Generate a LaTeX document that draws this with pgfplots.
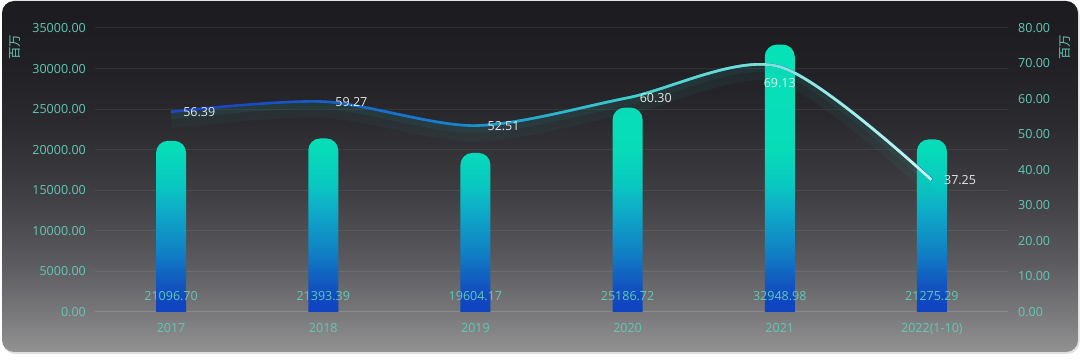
\documentclass[border=0pt]{standalone}
\usepackage{pgfplots}
\pgfplotsset{compat=1.18}
\usepackage{fontspec}
\setmainfont{Open Sans}
\newfontfamily\cjk{Noto Sans CJK SC}
\usetikzlibrary{fadings}

\definecolor{tickteal}{HTML}{62C8B4}
\definecolor{axisgray}{HTML}{8A8A8E}
\definecolor{labelc}{HTML}{E6E6E6}
\definecolor{glowc}{HTML}{22B0AC}
\definecolor{lineA}{HTML}{1A48C6}
\definecolor{lineB}{HTML}{1490CC}
\definecolor{lineC}{HTML}{40CFC2}
\definecolor{lineD}{HTML}{CDF4EC}

\definecolor{bgA}{HTML}{929292}
\definecolor{bgB}{HTML}{78787B}
\definecolor{bgC}{HTML}{5A5A5E}
\definecolor{bgD}{HTML}{3E3E42}
\definecolor{bgE}{HTML}{2A2A2E}
\definecolor{bgF}{HTML}{202024}
\definecolor{bgG}{HTML}{1C1C20}

\definecolor{barA}{HTML}{1044C0}
\definecolor{barB}{HTML}{1256C0}
\definecolor{barC}{HTML}{1080C4}
\definecolor{barD}{HTML}{0EA8C8}
\definecolor{barE}{HTML}{08C8C0}
\definecolor{barF}{HTML}{07DCB9}
\definecolor{barG}{HTML}{06E2B8}

\pgfdeclareverticalshading{bgshade}{100bp}{color(0bp)=(bgA); color(25bp)=(bgA); color(30.7bp)=(bgB); color(38.1bp)=(bgC); color(48bp)=(bgD); color(58bp)=(bgE); color(66.6bp)=(bgF); color(75bp)=(bgG); color(100bp)=(bgG)}
\pgfdeclareverticalshading{barshade}{100bp}{color(0bp)=(barA); color(28.5bp)=(barA); color(32.2bp)=(barB); color(37.8bp)=(barC); color(44.8bp)=(barD); color(49.9bp)=(barE); color(56.4bp)=(barF); color(75bp)=(barG); color(100bp)=(barG)}

% fading positions: path fraction f maps to 37.5bp + 25bp*f
\pgfdeclarehorizontalshading{fsA}{100bp}{color(0bp)=(black); color(40bp)=(black); color(48bp)=(white); color(100bp)=(white)}
\pgfdeclarehorizontalshading{fsB}{100bp}{color(0bp)=(black); color(47bp)=(black); color(52.5bp)=(white); color(100bp)=(white)}
\pgfdeclarehorizontalshading{fsC}{100bp}{color(0bp)=(black); color(52.5bp)=(black); color(62bp)=(white); color(100bp)=(white)}
\begin{tikzfadingfrompicture}[name=fadeA]
\shade[shading=fsA] (-50bp,-50bp) rectangle (50bp,50bp);
\end{tikzfadingfrompicture}
\begin{tikzfadingfrompicture}[name=fadeB]
\shade[shading=fsB] (-50bp,-50bp) rectangle (50bp,50bp);
\end{tikzfadingfrompicture}
\begin{tikzfadingfrompicture}[name=fadeC]
\shade[shading=fsC] (-50bp,-50bp) rectangle (50bp,50bp);
\end{tikzfadingfrompicture}

\pgfplotstableread{
x y
0 56.39
1 59.27
2 52.51
3 60.30
4 69.13
5 37.25
}\linedata

\pgfplotstableread{
x y
0 21096.70
1 21393.39
2 19604.17
3 25186.72
4 32948.98
5 21275.29
}\bardata

\newcommand{\lblfont}{\fontsize{12.5bp}{15bp}\selectfont}

\begin{document}
\begin{tikzpicture}
\useasboundingbox (0,0) rectangle (1080bp,362bp);
\fill[white] (0,0) rectangle (1080bp,362bp);
\fill[black!12, rounded corners=12bp] (3bp,8bp) rectangle (1079.5bp,359bp);
\shade[shading=bgshade, rounded corners=12bp] (2bp,10bp) rectangle (1078bp,361bp);
\node[rotate=90, text=tickteal, inner sep=0pt, font=\cjk\lblfont] at (15.5bp,314.5bp) {百万};
\node[rotate=90, text=tickteal, inner sep=0pt, font=\cjk\lblfont] at (1065bp,314.5bp) {百万};

% left axis: grid and ticks
\begin{axis}[
  at={(95bp,50bp)}, anchor=south west, scale only axis,
  width=913bp, height=284bp,
  xmin=-0.5, xmax=5.5, ymin=0, ymax=35000,
  axis line style={draw=none},
  xtick={0,1,2,3,4,5},
  xticklabels={2017,2018,2019,2020,2021,2022(1-10)},
  ytick={0,5000,10000,15000,20000,25000,30000,35000},
  scaled y ticks=false,
  major tick length=0pt,
  ymajorgrids, grid style={color=white, opacity=0.07, line width=1bp},
  extra y ticks={0}, extra y tick labels={},
  extra y tick style={grid style={color=axisgray, opacity=1, line width=1bp}},
  yticklabel={\pgfmathprintnumber[fixed, fixed zerofill, precision=2, 1000 sep={}, assume math mode=true]{\tick}},
  tick label style={color=tickteal, font=\lblfont},
  yticklabel style={anchor=east, inner sep=0pt, xshift=-9bp},
  xticklabel style={anchor=base, inner sep=0pt, yshift=-20.5bp},
]
\end{axis}

% bars: the axis reaches 1500 units below the visible base, which is clipped off
\begin{scope}
\clip (95bp,50bp) rectangle (1008bp,362bp);
\begin{axis}[
  at={(95bp,37.83bp)}, anchor=south west, scale only axis,
  width=913bp, height=296.17bp,
  xmin=-0.5, xmax=5.5, ymin=0, ymax=36500,
  hide axis, clip=false,
  y filter/.expression={y+1500},
]
\addplot[ybar, bar width=30bp, bar shift=0pt, draw=none, fill=none, shade, shading=barshade, rounded corners=12bp]
  table[x=x,y=y] {\bardata};
\addplot[draw=none, mark=none, nodes near coords, point meta=explicit symbolic,
  nodes near coords style={anchor=center, text=tickteal, font=\lblfont, inner sep=0pt}]
  coordinates {(0,1972)[21096.70] (1,1972)[21393.39] (2,1972)[19604.17] (3,1972)[25186.72] (4,1972)[32948.98] (5,1972)[21275.29]};
\end{axis}
\end{scope}

% right axis and line
\begin{axis}[
  at={(95bp,50bp)}, anchor=south west, scale only axis,
  width=913bp, height=284bp,
  xmin=-0.5, xmax=5.5, ymin=0, ymax=80,
  axis line style={draw=none}, xtick=\empty,
  ytick={0,10,20,30,40,50,60,70,80},
  major tick length=0pt,
  yticklabel pos=right,
  yticklabel={\pgfmathprintnumber[fixed, fixed zerofill, precision=2, assume math mode=true]{\tick}},
  yticklabel style={anchor=west, inner sep=0pt, xshift=10bp, text=tickteal, font=\lblfont},
  clip=false,
]
\addplot[smooth, draw=glowc, line width=16bp, opacity=0.06, yshift=-8bp] table[x=x,y=y] {\linedata};
\addplot[smooth, draw=glowc, line width=7bp, opacity=0.08, yshift=-4bp] table[x=x,y=y] {\linedata};
\addplot[smooth, draw=lineA, line width=2.6bp] table[x=x,y=y] {\linedata};
\addplot[smooth, draw=lineB, line width=2.6bp, path fading=fadeA] table[x=x,y=y] {\linedata};
\addplot[smooth, draw=lineC, line width=2.6bp, path fading=fadeB] table[x=x,y=y] {\linedata};
\addplot[smooth, draw=lineD, line width=2.6bp, path fading=fadeC] table[x=x,y=y] {\linedata};
\addplot[draw=none, mark=none, nodes near coords, point meta=explicit symbolic,
  nodes near coords style={anchor=west, xshift=12bp, text=labelc, font=\lblfont, inner sep=0pt}]
  coordinates {(0,56.39)[56.39] (1,59.27)[59.27] (2,52.51)[52.51] (3,60.30)[60.30] (5,37.25)[37.25]};
\addplot[draw=none, mark=none, nodes near coords, point meta=explicit symbolic,
  nodes near coords style={anchor=center, yshift=-16bp, text=labelc, font=\lblfont, inner sep=0pt}]
  coordinates {(4,69.13)[69.13]};
\end{axis}
\end{tikzpicture}
\end{document}
